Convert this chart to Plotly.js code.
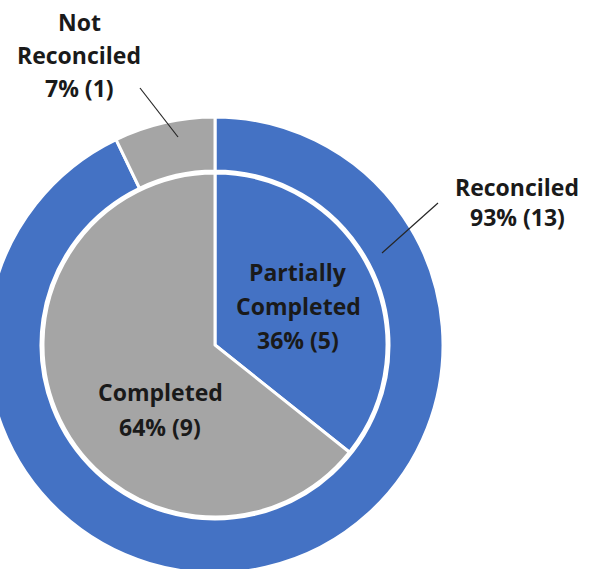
<!DOCTYPE html>
<html><head><meta charset="utf-8">
<script src="https://cdn.plot.ly/plotly-2.35.2.min.js"></script>
<style>html,body{margin:0;padding:0;background:#fff;overflow:hidden;width:599px;height:569px}
#chart{position:absolute;left:-20px;top:0;width:620px;height:600px}</style>
</head><body><div id="chart"></div>
<script>
// Data
const outerLabels = ["Reconciled", "Not Reconciled"];
const outerValues = [13, 1];
const innerLabels = ["Partially Completed", "Completed"];
const innerValues = [5, 9];
const colors = ["#4472C4", "#A5A5A5"];

// Layout helpers (pixel -> paper)
const W = 620, H = 600, OFF = 20;
const px = x => (x + OFF) / W;
const py = y => 1 - y / H;
const cx = 215, cy = 345, rOut = 228, rIn = 172;

function pct(v, arr) { const s = arr.reduce((a,b)=>a+b,0); return Math.round(100*v/s) + "% (" + v + ")"; }

const outer = {
  type: "pie", values: outerValues, labels: outerLabels, sort: false, direction: "clockwise", rotation: 0,
  hole: (rIn + 2) / rOut, textinfo: "none", hoverinfo: "none", showlegend: false,
  marker: {colors: colors, line: {color: "#ffffff", width: 3}},
  domain: {x: [px(cx - rOut), px(cx + rOut)], y: [py(cy + rOut), py(cy - rOut)]}
};
const inner = {
  type: "pie", values: innerValues, labels: innerLabels, sort: false, direction: "clockwise", rotation: 0,
  textinfo: "none", hoverinfo: "none", showlegend: false,
  marker: {colors: colors, line: {color: "#ffffff", width: 3}},
  domain: {x: [px(cx - rIn), px(cx + rIn)], y: [py(cy + rIn), py(cy - rIn)]}
};

const font = {family: "Open Sans, sans-serif", size: 23, color: "#1a1a1a", weight: 700};
// one annotation per text line for exact line spacing
function label(lines, x, y0, step) {
  return lines.map((t, i) => ({text: "<b>" + t + "</b>", x: px(x), y: py(y0 + i * step), xref: "paper", yref: "paper",
          showarrow: false, font: font, align: "center", xanchor: "center", yanchor: "middle"}));
}
const split = s => { const w = s.split(" "); return w; };
const annotations = [].concat(
  label([...split(outerLabels[1]), pct(outerValues[1], outerValues)], 79, 22, 33),
  label([outerLabels[0], pct(outerValues[0], outerValues)], 517, 187, 30),
  label([...split(innerLabels[0]), pct(innerValues[0], innerValues)], 298, 272, 34),
  label([innerLabels[1], pct(innerValues[1], innerValues)], 160, 392, 35)
);
const line = (x0,y0,x1,y1) => ({type:"line", xref:"paper", yref:"paper", x0:px(x0), y0:py(y0), x1:px(x1), y1:py(y1), line:{color:"#262626", width:1.2}});
const shapes = [line(140, 88, 178, 137), line(438, 203, 382, 253)];

Plotly.newPlot("chart", [outer, inner], {
  width: W, height: H, margin: {l:0, r:0, t:0, b:0},
  paper_bgcolor: "#ffffff", plot_bgcolor: "#ffffff",
  annotations: annotations, shapes: shapes
}, {displayModeBar: false, staticPlot: true});
</script></body></html>
